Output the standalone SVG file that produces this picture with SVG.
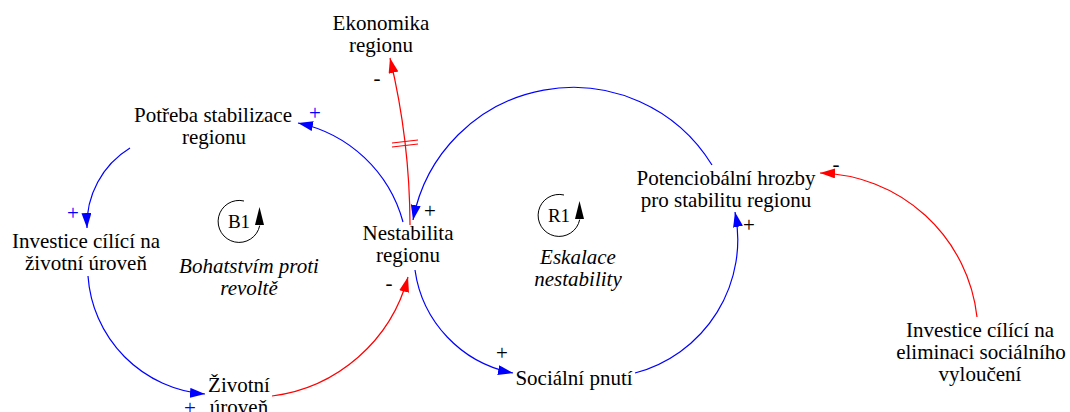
<svg xmlns="http://www.w3.org/2000/svg" width="1070" height="412" viewBox="0 0 1070 412">
<style>
text{font-family:'Liberation Serif','Times New Roman',serif;fill:#000}
.n{font-size:21px;text-anchor:middle}
.it{font-size:21px;text-anchor:middle;font-style:italic}
.s{font-size:21px;text-anchor:middle}
.sb{fill:#0000ff}
.lp{font-size:19px;text-anchor:middle}
.b{fill:none;stroke:#0000ff;stroke-width:1.2}
.r{fill:none;stroke:#ff0000;stroke-width:1.2}
.loop{fill:none;stroke:#000;stroke-width:1}
</style>
<defs>
<marker id="ab" markerUnits="userSpaceOnUse" markerWidth="16" markerHeight="12" refX="15" refY="5" orient="auto"><path d="M0,0 L15,5 L0,10 z" fill="#0000ff"/></marker>
<marker id="ar" markerUnits="userSpaceOnUse" markerWidth="16" markerHeight="12" refX="15" refY="5" orient="auto"><path d="M0,0 L15,5 L0,10 z" fill="#ff0000"/></marker>
</defs>
<rect width="1070" height="412" fill="#fff"/>
<g id="connectors">
<path class="b" d="M712,165 A163,163 0 0 0 413,220" marker-end="url(#ab)"/>
<path class="b" d="M403,222 A138,138 0 0 0 298,123" marker-end="url(#ab)"/>
<path class="b" d="M130,148 A90,90 0 0 0 87,228" marker-end="url(#ab)"/>
<path class="b" d="M88,276 A127,127 0 0 0 205,394" marker-end="url(#ab)"/>
<path class="r" d="M272,396 A162,162 0 0 0 408,277" marker-end="url(#ar)"/>
<path class="b" d="M415,270 A122,122 0 0 0 513,373" marker-end="url(#ab)"/>
<path class="b" d="M635,373 A138,138 0 0 0 735,212" marker-end="url(#ab)"/>
<path class="r" d="M977,317 A162,162 0 0 0 820,173" marker-end="url(#ar)"/>
<path class="r" d="M410,225 A723,723 0 0 0 390,58" marker-end="url(#ar)"/>
<path class="r" d="M392,143 L418,140 M392,147 L418,144"/>
<text class="s sb" x="315" y="120">+</text>
<text class="s" x="377" y="85">-</text>
<text class="s sb" x="73" y="220">+</text>
<text class="s sb" x="190" y="415">+</text>
<text class="s" x="389" y="290">-</text>
<text class="s" x="430" y="218">+</text>
<text class="s" x="502" y="360">+</text>
<text class="s" x="749" y="232">+</text>
<text class="s" x="836" y="171">-</text>
</g>
<g id="ekonomika"><text class="n" x="381" y="30">Ekonomika</text><text class="n" x="381" y="52">regionu</text></g>
<g id="potreba"><text class="n" x="213" y="122">Potřeba stabilizace</text><text class="n" x="214" y="144">regionu</text></g>
<g id="investice-zivot"><text class="n" x="86" y="248">Investice cílící na</text><text class="n" x="86" y="270">životní úroveň</text></g>
<g id="nestabilita"><text class="n" x="408" y="240">Nestabilita</text><text class="n" x="408" y="262">regionu</text></g>
<g id="potencio"><text class="n" x="726" y="185">Potenciobální hrozby</text><text class="n" x="726" y="207">pro stabilitu regionu</text></g>
<g id="socialni"><text class="n" x="574" y="385">Sociální pnutí</text></g>
<g id="zivotni"><text class="n" x="239" y="392">Životní</text><text class="n" x="239" y="414">úroveň</text></g>
<g id="investice-elim"><text class="n" x="980" y="337">Investice cílící na</text><text class="n" x="981" y="359">eliminaci sociálního</text><text class="n" x="980" y="381">vyloučení</text></g>
<g id="loop-b1">
<path class="loop" d="M244,201 A21,21 0 1 0 259.7,225.6"/>
<path d="M255,225 L264,225 L259.5,207 z" fill="#000"/>
<text class="lp" x="239" y="228">B1</text>
<text class="it" x="249" y="273">Bohatstvím proti</text>
<text class="it" x="249" y="295">revoltě</text>
</g>
<g id="loop-r1">
<path class="loop" d="M564,195 A21,21 0 1 0 579.7,219.6"/>
<path d="M575,219 L584,219 L579.5,201 z" fill="#000"/>
<text class="lp" x="559" y="222">R1</text>
<text class="it" x="578" y="264">Eskalace</text>
<text class="it" x="578" y="286">nestability</text>
</g>
</svg>
